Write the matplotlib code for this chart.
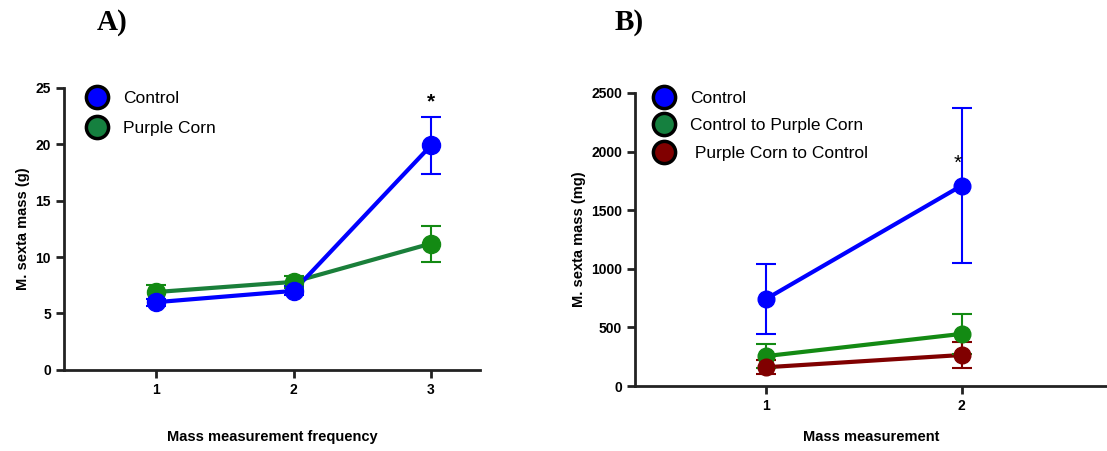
import matplotlib.pyplot as plt
from matplotlib.lines import Line2D

plt.rcParams["font.family"] = ["Liberation Sans", "DejaVu Sans"]

# Panel A data
a_x = [1, 2, 3]
a_control = [6.0, 7.0, 19.9]
a_control_err = [0.3, 0.4, 2.5]
a_purple = [6.9, 7.8, 11.2]
a_purple_err = [0.6, 0.5, 1.6]

# Panel B data
b_x = [1, 2]
b_control = [740, 1710]
b_control_err = [300, 660]
b_c2p = [255, 445]
b_c2p_err = [105, 170]
b_p2c = [160, 265]
b_p2c_err = [60, 112]

BLUE = "#0000ff"
GREEN = "#138a13"
GREEN_LINE = "#1a7f3a"
RED = "#800000"

fig = plt.figure(figsize=(11.07, 4.51), dpi=100)
axA = fig.add_axes([0.058, 0.180, 0.376, 0.625])
axB = fig.add_axes([0.574, 0.144, 0.426, 0.650])


def series(ax, x, y, err, color, lcolor=None, ms=12):
    ax.plot(x, y, color=lcolor or color, lw=3, zorder=2)
    ax.errorbar(x, y, yerr=err, fmt="o", color=color, ms=ms, capsize=7,
                elinewidth=1.5, capthick=1.5, zorder=3)


def style(ax):
    for s in ["top", "right"]:
        ax.spines[s].set_visible(False)
    for s in ["left", "bottom"]:
        ax.spines[s].set_linewidth(2)
        ax.spines[s].set_color("#222222")
    ax.tick_params(width=2, length=6, labelsize=10, color="#222222")
    for t in ax.get_xticklabels() + ax.get_yticklabels():
        t.set_fontweight("bold")


def legend(ax, labels, colors, **kw):
    handles = [Line2D([], [], ls="none", marker="o", ms=16, mfc=c,
                      mec="black", mew=2.5) for c in colors]
    ax.legend(handles, labels, frameon=False, fontsize=12.5, **kw)


# Panel A
series(axA, a_x, a_purple, a_purple_err, GREEN, GREEN_LINE, ms=13)
series(axA, a_x, a_control, a_control_err, BLUE, ms=13)
axA.set_xlim(0.33, 3.36)
axA.set_ylim(0, 25)
axA.set_xticks(a_x)
axA.set_yticks([0, 5, 10, 15, 20, 25])
style(axA)
axA.set_ylabel("M. sexta mass (g)", fontsize=10.5, fontweight="bold")
axA.set_xlabel("Mass measurement frequency", fontsize=10.5, fontweight="bold",
               labelpad=24)
axA.text(3, 22.9, "*", ha="center", va="bottom", fontsize=15, fontweight="bold")
legend(axA, ["Control", "Purple Corn"], [BLUE, "#15803f"],
       loc="upper left", bbox_to_anchor=(0.0, 1.045), labelspacing=0.85,
       handletextpad=0.5)
fig.text(0.087, 0.951, "A)", fontsize=21, fontweight="bold",
         family="Liberation Serif", va="center")

# Panel B
series(axB, b_x, b_control, b_control_err, BLUE)
series(axB, b_x, b_c2p, b_c2p_err, GREEN)
series(axB, b_x, b_p2c, b_p2c_err, RED)
axB.set_xlim(0.337, 2.74)
axB.set_ylim(0, 2500)
axB.set_xticks(b_x)
axB.set_yticks([0, 500, 1000, 1500, 2000, 2500])
style(axB)
axB.set_ylabel("M. sexta mass (mg)", fontsize=10.5, fontweight="bold")
axB.set_xlabel("Mass measurement", fontsize=10.5, fontweight="bold", labelpad=12)
axB.text(1.98, 1820, "*", ha="center", va="bottom", fontsize=15)
legend(axB, ["Control", "Control to Purple Corn", " Purple Corn to Control"],
       [BLUE, "#15803f", RED], loc="upper left", bbox_to_anchor=(-0.01, 1.06),
       labelspacing=0.7, handletextpad=0.5)
fig.text(0.555, 0.951, "B)", fontsize=21, fontweight="bold",
         family="Liberation Serif", va="center")

fig.savefig("out.png", dpi=100)
